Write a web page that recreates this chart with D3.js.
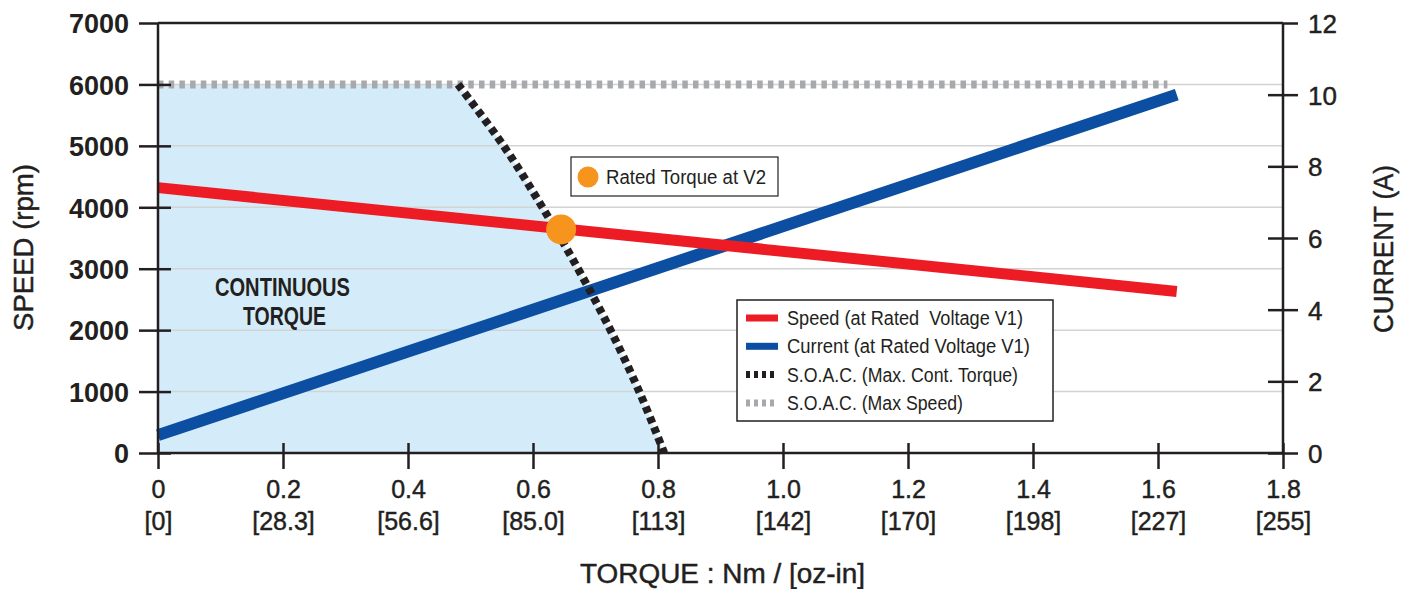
<html>
<head>
    <title>Speed / Current vs Torque</title>
    <style>
        body { margin: 0; background: #fff; }
        text { font-family: "Liberation Sans", Arial, sans-serif; fill: #231f20; white-space: pre; }
        .med { stroke: #231f20; stroke-width: 0.45px; }
    </style>
</head>
<body>
<div id="my_dataviz"></div>
<script src="https://d3js.org/d3.v7.min.js"></script>
<script>

    // ---- data ----
    var torqueTicks = [0, 0.2, 0.4, 0.6, 0.8, 1.0, 1.2, 1.4, 1.6, 1.8];
    var torqueLabels = ["0", "0.2", "0.4", "0.6", "0.8", "1.0", "1.2", "1.4", "1.6", "1.8"];
    var ozinLabels = ["[0]", "[28.3]", "[56.6]", "[85.0]", "[113]", "[142]", "[170]", "[198]", "[227]", "[255]"];
    var speedTicks = [0, 1000, 2000, 3000, 4000, 5000, 6000, 7000];
    var currentTicks = [0, 2, 4, 6, 8, 10, 12];

    // speed (rpm) vs torque (Nm) at rated voltage V1
    var speedLine = [[0, 4320], [1.63, 2630]];
    // current (A) vs torque (Nm) at rated voltage V1
    var currentLine = [[0, 0.5], [1.63, 10.0]];
    // S.O.A.C. max continuous torque boundary (torque, speed)
    var soacTorque = [[0.48, 6000], [0.553, 5000], [0.615, 4000], [0.672, 3000], [0.724, 2000], [0.77, 1000], [0.81, 0]];
    // S.O.A.C. max speed
    var soacSpeed = [[0, 6000], [1.615, 6000]];
    // rated torque at V2
    var ratedPoint = [0.645, 3640];

    var legendItems = ["Speed (at Rated  Voltage V1)", "Current (at Rated Voltage V1)",
        "S.O.A.C. (Max. Cont. Torque)", "S.O.A.C. (Max Speed)"];
    var legendWidths = [236, 243, 231, 176];

    var W = 1408, H = 589;
    var pLeft = 158, pRight = 1283, pTop = 23, pBottom = 453;
    var ink = "#231f20";

    var svg = d3.select("#my_dataviz")
        .append("svg")
        .attr("width", W)
        .attr("height", H);

    var x = d3.scaleLinear().domain([0, 1.8]).range([pLeft, pRight]);
    var y = d3.scaleLinear().domain([0, 7000]).range([pBottom, pTop]);
    var yc = d3.scaleLinear().domain([0, 12]).range([pBottom, pTop]);

    var curveS = d3.line().curve(d3.curveCatmullRom)
        .x(function (d) { return x(d[0]); }).y(function (d) { return y(d[1]); });

    // continuous torque area
    svg.append("path")
        .attr("d", "M" + x(0) + "," + y(0) + "L" + x(0) + "," + y(6000) + "L" + curveS(soacTorque).slice(1) + "Z")
        .attr("fill", "#d4ecf9");

    // gridlines
    svg.append("g")
        .selectAll("line")
        .data(speedTicks.slice(1, 7))
        .enter()
        .append("line")
        .attr("x1", pLeft).attr("x2", pRight)
        .attr("y1", function (d) { return y(d); })
        .attr("y2", function (d) { return y(d); })
        .attr("stroke", "#d1d3d4")
        .attr("stroke-width", 1.5);

    // top frame
    svg.append("line")
        .attr("x1", pLeft).attr("x2", pRight)
        .attr("y1", pTop).attr("y2", pTop)
        .attr("stroke", ink).attr("stroke-width", 2.5);

    svg.append("text")
        .attr("x", 215).attr("y", 296)
        .attr("textLength", 135).attr("lengthAdjust", "spacingAndGlyphs")
        .style("font-size", "25px").style("font-weight", "bold")
        .text("CONTINUOUS");
    svg.append("text")
        .attr("x", 243).attr("y", 325)
        .attr("textLength", 83).attr("lengthAdjust", "spacingAndGlyphs")
        .style("font-size", "25px").style("font-weight", "bold")
        .text("TORQUE");

    var lineS = d3.line().x(function (d) { return x(d[0]); }).y(function (d) { return y(d[1]); });
    var lineC = d3.line().x(function (d) { return x(d[0]); }).y(function (d) { return yc(d[1]); });

    svg.append("path")
        .attr("d", lineC(currentLine))
        .attr("stroke", "#0b4ea2").attr("stroke-width", 12).attr("fill", "none");

    svg.append("path")
        .attr("d", lineS(speedLine))
        .attr("stroke", "#ed1c24").attr("stroke-width", 11).attr("fill", "none");

    svg.append("path")
        .attr("d", lineS(soacSpeed))
        .attr("stroke", "#a7a9ac").attr("stroke-width", 8)
        .attr("stroke-dasharray", "5.5,5.2").attr("fill", "none");

    svg.append("path")
        .attr("d", curveS(soacTorque))
        .attr("stroke", ink).attr("stroke-width", 8)
        .attr("stroke-dasharray", "6.5,4.5").attr("fill", "none");

    svg.append("circle")
        .attr("cx", x(ratedPoint[0])).attr("cy", y(ratedPoint[1]))
        .attr("r", 15).attr("fill", "#f7941d");

    // ---- axes ----
    var axL = svg.append("g")
        .attr("transform", "translate(" + pLeft + ",0)")
        .call(d3.axisLeft(y).tickValues(speedTicks).tickSize(19).tickPadding(10).tickFormat(d3.format("d")));
    axL.selectAll(".tick line").attr("x1", function (d) { return d == 7000 ? 0 : 13; });

    var axR = svg.append("g")
        .attr("transform", "translate(" + pRight + ",0)")
        .call(d3.axisRight(yc).tickValues(currentTicks).tickSize(15).tickPadding(10));
    axR.selectAll(".tick line").attr("x1", function (d) { return d == 12 ? 0 : -15; });

    var axB = svg.append("g")
        .attr("transform", "translate(0," + pBottom + ")")
        .call(d3.axisBottom(x).tickValues(torqueTicks).tickSize(16).tickFormat(function (d, i) { return torqueLabels[i]; }));
    axB.selectAll(".tick line").attr("y1", -10);

    [axL, axR, axB].forEach(function (a) {
        a.select(".domain").attr("stroke", ink).attr("stroke-width", 2.5);
        a.selectAll(".tick line").attr("stroke", ink).attr("stroke-width", 2.5);
        a.selectAll("text").attr("fill", ink).style("font-family", '"Liberation Sans", Arial, sans-serif');
    });
    axL.select(".domain").attr("d", "M0," + pTop + "V" + pBottom);
    axR.select(".domain").attr("d", "M0," + pTop + "V" + pBottom);
    axB.select(".domain").attr("d", "M" + pLeft + ",0H" + pRight);

    axL.selectAll("text").style("font-size", "27px").style("font-weight", "bold").attr("dy", "0.36em");
    axR.selectAll("text").attr("class", "med").style("font-size", "26px").attr("dy", "0.36em");
    axB.selectAll("text").attr("class", "med").style("font-size", "25px").attr("y", 0).attr("dy", 0)
        .attr("transform", "translate(0,45)");
    axB.selectAll(".tick")
        .append("text")
        .attr("class", "med")
        .attr("fill", ink)
        .attr("y", 77)
        .attr("text-anchor", "middle")
        .style("font-size", "25px")
        .text(function (d, i) { return ozinLabels[i]; });

    // axis titles
    svg.append("text")
        .attr("class", "med")
        .attr("transform", "translate(33,247) rotate(-90)")
        .attr("x", -84)
        .attr("textLength", 167).attr("lengthAdjust", "spacingAndGlyphs")
        .style("font-size", "27px")
        .text("SPEED (rpm)");
    svg.append("text")
        .attr("class", "med")
        .attr("transform", "translate(1393,249) rotate(-90)")
        .attr("x", -84)
        .attr("textLength", 168).attr("lengthAdjust", "spacingAndGlyphs")
        .style("font-size", "27px")
        .text("CURRENT (A)");
    svg.append("text")
        .attr("class", "med")
        .attr("x", 580).attr("y", 583)
        .attr("textLength", 285).attr("lengthAdjust", "spacingAndGlyphs")
        .style("font-size", "27px")
        .text("TORQUE : Nm / [oz-in]");

    // rated torque label
    svg.append("rect")
        .attr("x", 571).attr("y", 157).attr("width", 207).attr("height", 39)
        .attr("fill", "#fff").attr("stroke", ink).attr("stroke-width", 1.2);
    svg.append("circle")
        .attr("cx", 588).attr("cy", 177).attr("r", 10.5).attr("fill", "#f7941d");
    svg.append("text")
        .attr("x", 606).attr("y", 184)
        .attr("textLength", 160).attr("lengthAdjust", "spacingAndGlyphs")
        .style("font-size", "20px")
        .text("Rated Torque at V2");

    // legend
    var lg = svg.append("g").attr("transform", "translate(737,300)");
    lg.append("rect")
        .attr("width", 316).attr("height", 121)
        .attr("fill", "#fff").attr("stroke", ink).attr("stroke-width", 1.5);
    var swatch = [
        { c: "#ed1c24", w: 7, dash: null },
        { c: "#0b4ea2", w: 7, dash: null },
        { c: ink, w: 7, dash: "4,4" },
        { c: "#a7a9ac", w: 7, dash: "4,4" }
    ];
    var rows = lg.selectAll(".row")
        .data(legendItems)
        .enter()
        .append("g")
        .attr("transform", function (d, i) { return "translate(0," + (18 + i * 28.3) + ")"; });
    rows.append("line")
        .attr("x1", 9).attr("x2", 41)
        .attr("stroke", function (d, i) { return swatch[i].c; })
        .attr("stroke-width", function (d, i) { return swatch[i].w; })
        .attr("stroke-dasharray", function (d, i) { return swatch[i].dash; });
    rows.append("text")
        .attr("x", 50).attr("y", 7)
        .attr("textLength", function (d, i) { return legendWidths[i]; })
        .attr("lengthAdjust", "spacingAndGlyphs")
        .style("font-size", "20px")
        .text(function (d) { return d; });

</script>
</body>
</html>
